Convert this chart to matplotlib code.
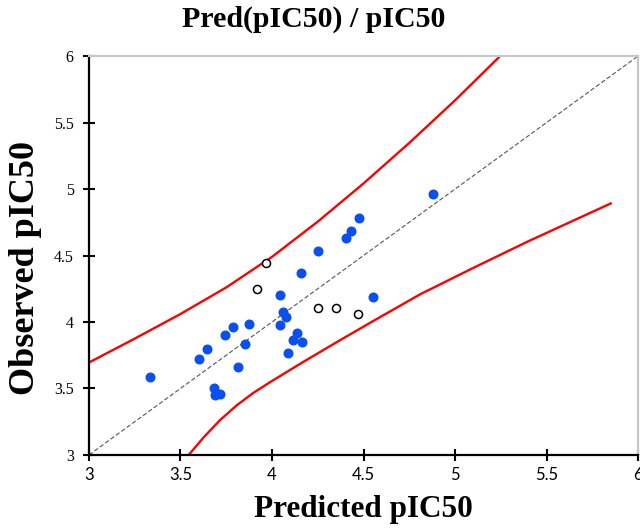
import matplotlib
matplotlib.use("Agg")
import matplotlib.pyplot as plt

# Training set (filled blue)
train_pred = [3.333, 3.603, 3.645, 3.683, 3.689, 3.716, 3.741, 3.785, 3.816, 3.851,
              3.872, 4.042, 4.062, 4.075, 4.044, 4.087, 4.117, 4.138, 4.164, 4.158,
              4.249, 4.406, 4.430, 4.474, 4.552, 4.878]
train_obs = [3.584, 3.722, 3.797, 3.504, 3.451, 3.461, 3.905, 3.960, 3.664, 3.835,
             3.987, 4.201, 4.078, 4.040, 3.977, 3.764, 3.865, 3.915, 3.850, 4.368,
             4.531, 4.632, 4.684, 4.784, 4.190, 4.960]

# Test set (open circles)
test_pred = [3.967, 3.918, 4.253, 4.352, 4.470]
test_obs = [4.441, 4.246, 4.108, 4.108, 4.058]

# Prediction interval curves
upper_x = [3.0, 3.25, 3.5, 3.75, 4.0, 4.25, 4.5, 4.75, 5.0, 5.246]
upper_y = [3.695, 3.875, 4.060, 4.260, 4.490, 4.755, 5.042, 5.347, 5.667, 6.0]
lower_x = [3.545, 3.625, 3.716, 3.807, 3.898, 3.989, 4.171, 4.353, 4.536, 4.809, 5.1, 5.4, 5.856]
lower_y = [3.0, 3.130, 3.262, 3.373, 3.467, 3.547, 3.700, 3.848, 3.994, 4.208, 4.407, 4.607, 4.895]

ticks = [3, 3.5, 4, 4.5, 5, 5.5, 6]
tick_labels = ["3", "3.5", "4", "4.5", "5", "5.5", "6"]

fig = plt.figure(figsize=(6.4, 5.29), dpi=100)
ax = fig.add_axes([0.139, 0.140, 0.858, 0.754])

ax.plot([3, 6], [3, 6], linestyle=(0, (4, 2)), color="#555555", linewidth=0.8, zorder=1)
ax.plot(upper_x, upper_y, color="#ff0000", linewidth=1.7, zorder=2, solid_capstyle="butt",
        solid_joinstyle="round")
ax.plot(lower_x, lower_y, color="#ff0000", linewidth=1.7, zorder=2, solid_capstyle="butt",
        solid_joinstyle="round")

ax.plot(train_pred, train_obs, linestyle="none", marker="o", markersize=6.2,
        markerfacecolor="#0a4ff0", markeredgecolor="#0a4ff0", zorder=3)
ax.plot(test_pred, test_obs, linestyle="none", marker="o", markersize=5.8,
        markerfacecolor="white", markeredgecolor="black", markeredgewidth=1.1, zorder=3)

ax.set_xlim(3, 6)
ax.set_ylim(3, 6)
ax.set_xticks(ticks)
ax.set_xticklabels(tick_labels, family="Lato", fontsize=12)
ax.set_yticks(ticks)
ax.set_yticklabels(tick_labels, family="Liberation Serif", fontsize=11.5)
ax.tick_params(direction="inout", length=8, width=1.5, color="black")
ax.tick_params(axis="x", pad=5)
ax.tick_params(axis="y", pad=7)

for side in ["left", "bottom"]:
    ax.spines[side].set_color("black")
    ax.spines[side].set_linewidth(1.6)
for side in ["top", "right"]:
    ax.spines[side].set_color("#c8c8c8")
    ax.spines[side].set_linewidth(1.6)

ax.set_xlabel("Predicted pIC50", family="Liberation Serif", fontweight="bold", fontsize=22.5, labelpad=8)
fig.text(0.040, 0.494, "Observed pIC50", family="Liberation Serif", fontweight="bold",
         fontsize=26, rotation=90, ha="center", va="center")
fig.text(0.49, 0.963, "Pred(pIC50) / pIC50", family="Liberation Serif", fontweight="bold",
         fontsize=21.5, ha="center", va="center")

fig.savefig("out.png", dpi=100)
